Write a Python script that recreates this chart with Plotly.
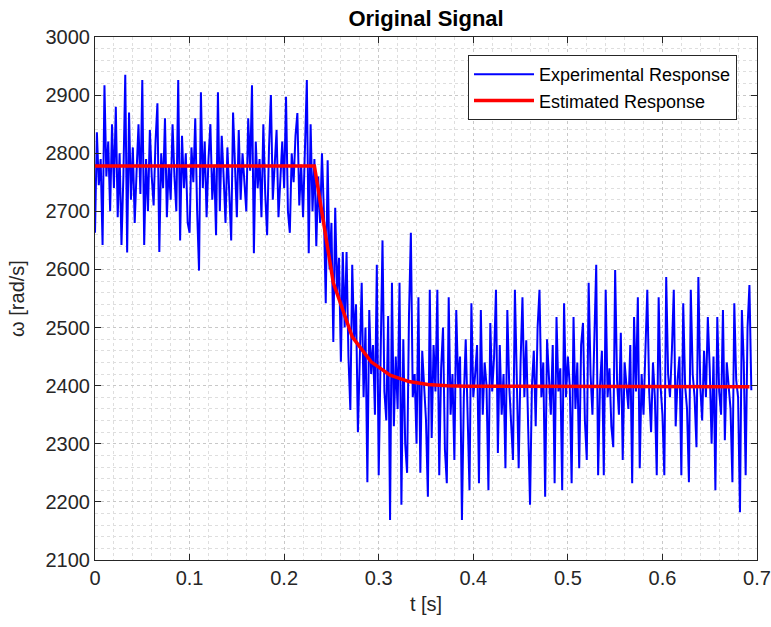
import numpy as np
import plotly.graph_objects as go

dt = 0.002
omega_exp = [
    2663, 2836, 2745, 2790, 2642, 2917, 2760, 2820, 2700, 2850,
    2740, 2880, 2690, 2800, 2642, 2760, 2935, 2629, 2870, 2720,
    2810, 2680, 2770, 2850, 2730, 2926, 2642, 2790, 2700, 2840,
    2760, 2710, 2820, 2886, 2630, 2800, 2740, 2860, 2690, 2780,
    2720, 2850, 2760, 2700, 2926, 2650, 2830, 2740, 2800, 2680,
    2663, 2810, 2750, 2860, 2700, 2598, 2905, 2740, 2820, 2690,
    2790, 2850, 2720, 2780, 2659, 2905, 2700, 2830, 2760, 2680,
    2810, 2740, 2650, 2870, 2760, 2690, 2840, 2720, 2800, 2750,
    2700, 2860, 2770, 2917, 2628, 2820, 2740, 2790, 2690, 2850,
    2730, 2659, 2810, 2900, 2720, 2780, 2840, 2690, 2760, 2820,
    2740, 2897, 2700, 2663, 2800, 2750, 2830, 2869, 2710, 2780,
    2690, 2820, 2926, 2628, 2850, 2700, 2790, 2640, 2760, 2680,
    2800, 2700, 2542, 2788, 2600, 2680, 2475, 2706, 2560, 2620,
    2441, 2630, 2500, 2630, 2450, 2358, 2608, 2480, 2540, 2320,
    2450, 2577, 2380, 2500, 2234, 2530, 2420, 2470, 2350, 2608,
    2246, 2480, 2650, 2390, 2340, 2520, 2169, 2577, 2330, 2450,
    2360, 2577, 2195, 2480, 2300, 2250, 2520, 2663, 2380, 2420,
    2300, 2552, 2250, 2460, 2400, 2340, 2209, 2565, 2310, 2470,
    2390, 2565, 2246, 2430, 2500, 2290, 2232, 2552, 2350, 2420,
    2272, 2530, 2400, 2450, 2169, 2380, 2480, 2330, 2220, 2542,
    2380, 2420, 2470, 2232, 2530, 2350, 2440, 2400, 2220, 2508,
    2390, 2450, 2565, 2284, 2470, 2350, 2420, 2258, 2530, 2400,
    2330, 2272, 2565, 2410, 2258, 2440, 2552, 2380, 2478, 2330,
    2195, 2400, 2460, 2330, 2500, 2565, 2380, 2440, 2209, 2480,
    2400, 2350, 2470, 2232, 2518, 2390, 2430, 2220, 2542, 2380,
    2450, 2400, 2232, 2518, 2360, 2440, 2258, 2470, 2508, 2340,
    2272, 2577, 2420, 2350, 2480, 2608, 2246, 2400, 2460, 2246,
    2565, 2380, 2430, 2330, 2294, 2599, 2410, 2350, 2491, 2272,
    2440, 2400, 2360, 2470, 2232, 2518, 2390, 2552, 2258, 2420,
    2350, 2460, 2565, 2390, 2320, 2440, 2380, 2246, 2552, 2400,
    2350, 2246, 2587, 2420, 2380, 2460, 2565, 2330, 2410, 2450,
    2246, 2542, 2400, 2360, 2234, 2565, 2420, 2380, 2294, 2587,
    2400, 2340, 2460, 2380, 2518, 2430, 2300, 2450, 2220, 2518,
    2390, 2350, 2530, 2306, 2440, 2400, 2360, 2234, 2542, 2410,
    2380, 2182, 2530, 2440, 2246, 2500, 2573, 2392,
]
t_exp = np.arange(len(omega_exp)) * dt

t_est = [0.0, 0.232, 0.252, 0.272, 0.292, 0.312, 0.332, 0.352, 0.372, 0.392, 0.692]
omega_est = [2778, 2778, 2577, 2484, 2441, 2418, 2407, 2402, 2400, 2399, 2398]

FONT = "Liberation Sans, Arial, sans-serif"
fig = go.Figure()
fig.add_trace(go.Scatter(x=t_exp, y=omega_exp, mode="lines", name="Experimental Response",
                         line=dict(color="#0000FF", width=2)))
fig.add_trace(go.Scatter(x=t_est, y=omega_est, mode="lines", name="Estimated Response",
                         line=dict(color="#FF0000", width=3.5)))

axis_common = dict(
    showline=True, linecolor="#262626", linewidth=1, mirror="ticks",
    ticks="inside", ticklen=6, tickcolor="#262626", automargin=False,
    showgrid=True, gridcolor="#c8c8c8", griddash="dot", gridwidth=1,
    zeroline=False, tickfont=dict(family=FONT, size=20, color="#262626"),
)
fig.update_xaxes(range=[0, 0.7], dtick=0.1, tick0=0,
                 minor=dict(dtick=0.02, showgrid=True, gridcolor="#dedede", griddash="dot", ticks=""),
                 title=dict(text="t [s]", font=dict(family=FONT, size=20, color="#262626"), standoff=8),
                 **axis_common)
fig.update_yaxes(range=[2100, 3000], dtick=100, tick0=2100,
                 minor=dict(dtick=20, showgrid=True, gridcolor="#dedede", griddash="dot", ticks=""),
                 title=dict(text="ω [rad/s]", font=dict(family=FONT, size=20, color="#262626"), standoff=15),
                 **axis_common)

fig.update_layout(
    width=771, height=627,
    margin=dict(l=95, r=14, t=37, b=67),
    paper_bgcolor="white", plot_bgcolor="white",
    title=dict(text="<b>Original Signal</b>", x=0.5526, xanchor="center",
               y=1 - 18 / 627, yanchor="middle", yref="container",
               font=dict(family=FONT, size=22, color="black")),
    legend=dict(x=0.9698, y=0.9656, xanchor="right", yanchor="top",
                bgcolor="white", bordercolor="#262626", borderwidth=1,
                font=dict(family=FONT, size=18, color="black"),
                itemwidth=60, tracegroupgap=0),
    showlegend=True,
)

fig.write_html("out.html")
